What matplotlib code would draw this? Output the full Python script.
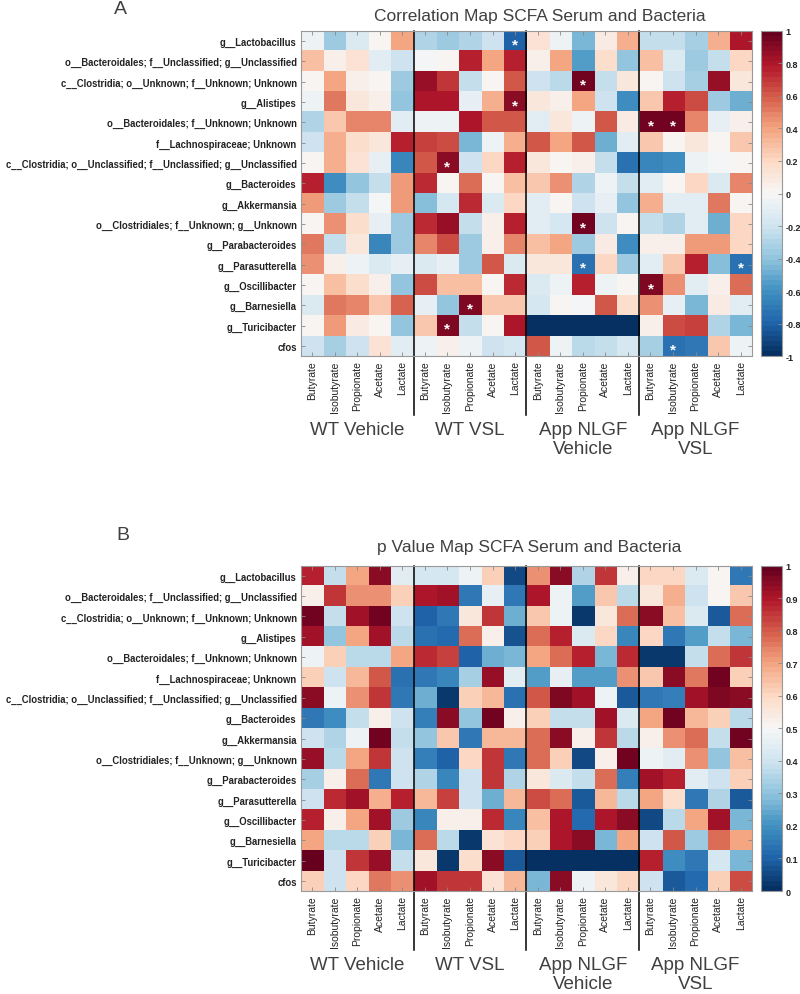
import numpy as np
import matplotlib
matplotlib.use('Agg')
import matplotlib.pyplot as plt
from matplotlib.colors import ListedColormap

plt.rcParams['font.family'] = ['Liberation Sans', 'DejaVu Sans']

row_labels = [
    'g__Lactobacillus',
    'o__Bacteroidales; f__Unclassified; g__Unclassified',
    'c__Clostridia; o__Unknown; f__Unknown; Unknown',
    'g__Alistipes',
    'o__Bacteroidales; f__Unknown; Unknown',
    'f__Lachnospiraceae; Unknown',
    'c__Clostridia; o__Unclassified; f__Unclassified; g__Unclassified',
    'g__Bacteroides',
    'g__Akkermansia',
    'o__Clostridiales; f__Unknown; g__Unknown',
    'g__Parabacteroides',
    'g__Parasutterella',
    'g__Oscillibacter',
    'g__Barnesiella',
    'g__Turicibacter',
    'cfos',
]
acids = ['Butyrate', 'Isobutyrate', 'Propionate', 'Acetate', 'Lactate']
groups = ['WT Vehicle', 'WT VSL', 'App NLGF\nVehicle', 'App NLGF\nVSL']

corr = [
    [-0.05, -0.35, -0.15, 0.02, 0.40, -0.30, -0.35, -0.30, -0.20, -0.80, 0.13, -0.05, -0.45, 0.08, 0.35, -0.22, -0.22, -0.32, 0.35, 0.80],
    [0.30, 0.05, 0.15, -0.12, -0.20, -0.03, 0.03, 0.75, 0.40, 0.75, 0.04, 0.38, -0.55, 0.18, -0.38, 0.30, -0.15, -0.35, -0.25, 0.20],
    [0.02, 0.40, 0.04, 0.03, -0.35, 0.85, 0.70, -0.25, 0.03, 0.60, -0.20, -0.28, 0.95, -0.22, 0.10, 0.03, -0.20, -0.32, 0.85, 0.10],
    [-0.04, 0.50, 0.12, 0.04, -0.40, 0.80, 0.80, -0.07, 0.35, 0.90, 0.10, 0.04, 0.38, -0.20, -0.60, 0.28, 0.78, 0.65, -0.35, -0.50],
    [-0.30, 0.25, 0.48, 0.48, -0.12, -0.05, -0.05, 0.80, 0.60, 0.60, -0.10, 0.10, -0.04, 0.60, 0.07, 0.95, 0.95, 0.48, -0.08, 0.06],
    [-0.20, 0.35, 0.17, 0.12, 0.75, 0.68, 0.65, -0.45, -0.05, 0.35, 0.62, 0.38, 0.62, -0.50, -0.10, 0.25, 0.03, 0.12, 0.02, 0.25],
    [0.02, 0.35, 0.13, -0.07, -0.65, 0.60, 0.90, -0.20, 0.20, 0.75, 0.10, 0.02, 0.04, -0.25, -0.75, -0.65, -0.60, -0.04, -0.03, 0.02],
    [0.75, -0.60, -0.40, -0.25, 0.42, 0.72, 0.02, 0.55, 0.02, 0.30, 0.25, 0.45, -0.30, -0.05, -0.25, -0.12, 0.02, 0.20, -0.15, 0.48],
    [0.42, -0.35, -0.25, -0.03, 0.42, -0.42, -0.18, 0.72, -0.15, 0.20, -0.10, 0.03, -0.20, -0.07, -0.38, 0.35, -0.12, -0.10, 0.50, 0.02],
    [0.02, 0.45, 0.18, -0.07, -0.35, 0.72, 0.85, -0.22, 0.05, 0.75, -0.10, -0.18, 0.95, -0.20, 0.02, -0.25, -0.30, -0.10, -0.48, 0.20],
    [0.50, -0.22, 0.10, -0.65, -0.35, 0.48, 0.65, -0.35, 0.04, 0.48, 0.30, 0.40, -0.35, 0.08, -0.62, 0.05, 0.05, 0.42, 0.42, 0.20],
    [0.45, 0.05, -0.05, -0.15, -0.07, -0.15, -0.07, -0.35, 0.60, -0.15, 0.10, 0.10, -0.72, 0.20, -0.35, -0.10, 0.28, 0.75, -0.42, -0.75],
    [0.03, 0.30, 0.18, 0.04, -0.40, 0.65, 0.30, 0.30, 0.03, 0.72, -0.15, -0.05, 0.75, -0.04, 0.02, 0.92, 0.45, -0.12, 0.04, 0.55],
    [-0.15, 0.50, 0.48, 0.25, 0.58, -0.07, -0.40, 0.92, 0.25, 0.25, -0.18, 0.03, -0.03, 0.60, 0.18, 0.45, -0.08, -0.45, 0.07, -0.12],
    [0.00, 0.42, 0.08, 0.02, -0.38, 0.28, 0.92, -0.22, 0.02, 0.80, -1.00, -1.00, -1.00, -1.00, -1.00, 0.06, 0.65, 0.68, -0.30, -0.45],
    [-0.20, -0.33, -0.20, 0.13, -0.12, -0.05, 0.05, -0.05, -0.20, -0.17, 0.60, -0.04, -0.28, -0.22, -0.18, -0.32, -0.75, -0.70, 0.25, -0.05],
]

pval = [
    [0.88, 0.38, 0.70, 0.95, 0.45, 0.42, 0.42, 0.47, 0.62, 0.05, 0.72, 0.95, 0.35, 0.85, 0.52, 0.60, 0.60, 0.43, 0.50, 0.15],
    [0.52, 0.85, 0.72, 0.72, 0.62, 0.90, 0.92, 0.15, 0.46, 0.15, 0.90, 0.47, 0.23, 0.64, 0.37, 0.55, 0.68, 0.40, 0.50, 0.64],
    [0.98, 0.38, 0.92, 0.97, 0.40, 0.10, 0.15, 0.55, 0.85, 0.25, 0.64, 0.47, 0.02, 0.55, 0.78, 0.94, 0.65, 0.43, 0.08, 0.77],
    [0.92, 0.30, 0.70, 0.92, 0.36, 0.13, 0.12, 0.78, 0.52, 0.07, 0.77, 0.88, 0.43, 0.60, 0.18, 0.60, 0.15, 0.22, 0.38, 0.27],
    [0.47, 0.62, 0.37, 0.37, 0.70, 0.87, 0.83, 0.10, 0.25, 0.27, 0.70, 0.77, 0.88, 0.27, 0.87, 0.02, 0.02, 0.38, 0.77, 0.85],
    [0.62, 0.40, 0.67, 0.80, 0.13, 0.15, 0.18, 0.33, 0.93, 0.45, 0.22, 0.46, 0.22, 0.22, 0.73, 0.63, 0.95, 0.75, 0.98, 0.62],
    [0.95, 0.47, 0.73, 0.85, 0.15, 0.25, 0.03, 0.62, 0.67, 0.13, 0.80, 0.96, 0.92, 0.47, 0.08, 0.15, 0.17, 0.92, 0.96, 0.95],
    [0.15, 0.20, 0.38, 0.52, 0.40, 0.17, 0.95, 0.30, 0.97, 0.52, 0.62, 0.38, 0.38, 0.92, 0.43, 0.70, 0.97, 0.67, 0.62, 0.37],
    [0.40, 0.35, 0.47, 0.97, 0.38, 0.30, 0.63, 0.15, 0.66, 0.66, 0.77, 0.95, 0.52, 0.85, 0.37, 0.53, 0.72, 0.78, 0.38, 0.98],
    [0.93, 0.37, 0.70, 0.85, 0.40, 0.17, 0.10, 0.60, 0.85, 0.15, 0.77, 0.62, 0.05, 0.52, 0.98, 0.48, 0.45, 0.73, 0.30, 0.65],
    [0.33, 0.52, 0.77, 0.15, 0.40, 0.35, 0.18, 0.40, 0.85, 0.35, 0.55, 0.43, 0.38, 0.77, 0.17, 0.92, 0.88, 0.45, 0.40, 0.62],
    [0.40, 0.87, 0.92, 0.68, 0.88, 0.67, 0.83, 0.40, 0.25, 0.67, 0.82, 0.78, 0.08, 0.66, 0.37, 0.70, 0.58, 0.15, 0.35, 0.08],
    [0.88, 0.52, 0.70, 0.92, 0.32, 0.18, 0.53, 0.53, 0.87, 0.18, 0.65, 0.90, 0.12, 0.90, 0.95, 0.05, 0.37, 0.70, 0.92, 0.27],
    [0.70, 0.36, 0.36, 0.62, 0.27, 0.77, 0.36, 0.03, 0.57, 0.60, 0.62, 0.90, 0.95, 0.27, 0.70, 0.40, 0.80, 0.32, 0.78, 0.70],
    [0.99, 0.40, 0.85, 0.93, 0.38, 0.56, 0.03, 0.58, 0.95, 0.08, 0.00, 0.00, 0.00, 0.00, 0.00, 0.88, 0.20, 0.15, 0.42, 0.27],
    [0.62, 0.40, 0.60, 0.75, 0.73, 0.92, 0.85, 0.85, 0.57, 0.67, 0.27, 0.95, 0.47, 0.56, 0.60, 0.40, 0.08, 0.12, 0.62, 0.82],
]

# (row, column) of significant correlations marked with '*'
star_rows = [0, 2, 3, 4, 4, 6, 9, 11, 11, 12, 13, 14, 15]
star_cols = [9, 12, 9, 15, 16, 6, 12, 12, 19, 15, 7, 6, 16]

cmap = ListedColormap(plt.get_cmap('RdBu_r')(np.linspace(0, 1, 64)))
col_labels = acids * len(groups)

fig = plt.figure(figsize=(8, 9.95), dpi=100)


def panel(ax_rect, cb_rect, data, vmin, vmax, cticks, ctick_labels, title, title_xy,
          letter, letter_xy, with_stars):
    ax = fig.add_axes(ax_rect)
    arr = np.array(data)
    nr, nc = arr.shape
    im = ax.imshow(arr, cmap=cmap, vmin=vmin, vmax=vmax, aspect='auto',
                   interpolation='nearest')
    ax.set_xticks(np.arange(nc))
    ax.set_xticklabels(col_labels, rotation=90, fontsize=7.5, color='#222222')
    ax.set_yticks(np.arange(nr))
    ax.set_yticklabels(row_labels, fontsize=6.85, fontweight='bold', color='#222222')
    ax.tick_params(direction='in', length=3, width=0.6, color='#888888',
                   top=True, right=True, pad=3)
    for s in ax.spines.values():
        s.set_color('#999999')
        s.set_linewidth(0.8)
    trans = ax.get_xaxis_transform()
    ng = len(acids)
    for g in range(1, len(groups)):
        ax.plot([g * ng - 0.5, g * ng - 0.5], [1.0, -0.18], transform=trans,
                color='black', lw=1.1, clip_on=False)
    for g, name in enumerate(groups):
        ax.text(g * ng + (ng - 1) / 2, -0.2, name, transform=trans,
                ha='center', va='top', fontsize=13.5, color='#404040',
                linespacing=1.15)
    if with_stars:
        for r, c in zip(star_rows, star_cols):
            ax.text(c, r + 0.15, '*', ha='center', va='center', color='white',
                    fontsize=11, fontweight='bold')
    ax.set_xlim(-0.5, nc - 0.5)
    ax.set_ylim(nr - 0.5, -0.5)
    cax = fig.add_axes(cb_rect)
    cb = fig.colorbar(im, cax=cax, ticks=cticks)
    cb.ax.set_yticklabels(ctick_labels, fontsize=6.5, fontweight='bold', color='#222222')
    cb.ax.tick_params(length=3, width=0.6, color='#888888', direction='in', pad=3)
    cb.outline.set_edgecolor('#999999')
    cb.outline.set_linewidth(0.8)
    fig.text(title_xy[0], title_xy[1], title, ha='center', va='center',
             fontsize=12.5, color='#404040')
    fig.text(letter_xy[0], letter_xy[1], letter, ha='center', va='center',
             fontsize=14, color='#404040')
    return ax


ticksA = [-1, -0.8, -0.6, -0.4, -0.2, 0, 0.2, 0.4, 0.6, 0.8, 1]
ticksB = [0, 0.1, 0.2, 0.3, 0.4, 0.5, 0.6, 0.7, 0.8, 0.9, 1]
fmt = lambda v: ('%g' % v)

panel([0.376, 0.641, 0.564, 0.327], [0.951, 0.641, 0.026, 0.327], corr, -1, 1,
      ticksA, [fmt(t) for t in ticksA], 'Correlation Map SCFA Serum and Bacteria',
      (0.675, 0.983), 'A', (0.151, 0.990), True)
panel([0.376, 0.1035, 0.564, 0.327], [0.951, 0.1035, 0.026, 0.327], pval, 0, 1,
      ticksB, [fmt(t) for t in ticksB], 'p Value Map SCFA Serum and Bacteria',
      (0.662, 0.450), 'B', (0.153, 0.462), False)

fig.savefig('out.png', dpi=100)
